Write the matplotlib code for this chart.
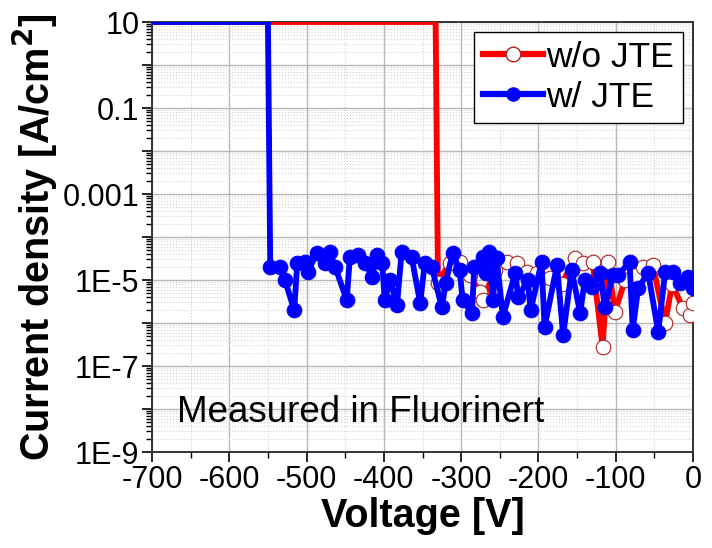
import matplotlib
matplotlib.use("Agg")
import matplotlib.pyplot as plt
import matplotlib.ticker as mticker
import numpy as np
from matplotlib.lines import Line2D

plt.rcParams['font.family'] = ['Liberation Sans', 'DejaVu Sans']

# ---- data ----
# compliance (10 A/cm^2) part of each sweep
wo_comp_v = [-700, -333]
wo_comp_j = [10, 10]
w_comp_v = [-700, -550]
w_comp_j = [10, 10]

# w/o JTE noise region
wo_v = [-330, -315, -302, -289, -276, -272, -256, -241, -228, -215, -202, -185,
        -170, -153, -142, -130, -117, -110, -101, -88, -75, -65, -52, -36, -27,
        -13, -4, 0]
wo_j = [8.5e-6, 2.5e-5, 2.6e-5, 1.3e-5, 5.2e-6, 3.4e-6, 1.7e-5, 2.6e-5, 2.5e-5,
        1.55e-5, 1.45e-5, 1.1e-5, 8e-6, 3.2e-5, 2.5e-5, 2.6e-5, 2.8e-7, 2.6e-5,
        1.8e-6, 1e-5, 1.3e-5, 2.0e-5, 2.2e-5, 1.0e-6, 8e-6, 2.2e-6, 1.5e-6, 2.9e-6]

# w/ JTE noise region
w_v = [-547, -534, -528, -516, -512, -502, -498, -487, -476, -470, -463, -448,
       -444, -434, -424, -415, -409, -402, -399, -392, -383, -377, -364, -353,
       -347, -338, -325, -320, -311, -302, -298, -286, -283, -272, -268, -264,
       -259, -254, -246, -230, -226, -214, -210, -196, -192, -176, -168, -157,
       -146, -140, -131, -120, -114, -104, -97, -82, -78, -71, -58, -45, -36,
       -26, -17, -7, 0]
w_j = [2.0e-5, 2.0e-5, 1.0e-5, 2.0e-6, 2.5e-5, 2.6e-5, 1.55e-5, 4.3e-5, 2.5e-5,
       4.5e-5, 2.0e-5, 3.4e-6, 3.4e-5, 3.8e-5, 2.5e-5, 1.2e-5, 3.8e-5, 2.5e-5,
       3.4e-6, 1.0e-5, 2.6e-6, 4.5e-5, 3.4e-5, 2.9e-6, 2.5e-5, 2.0e-5, 2.3e-6,
       8.5e-6, 4.3e-5, 1.7e-5, 3.4e-6, 1.7e-6, 2.0e-5, 3.4e-5, 1.45e-5, 4.5e-5,
       3.4e-6, 3.2e-5, 1.4e-6, 1.45e-5, 4.0e-6, 1.0e-5, 2.0e-6, 2.6e-5, 8.1e-7,
       2.2e-5, 5.2e-7, 1.7e-5, 1.7e-6, 1.0e-5, 6.9e-6, 1.45e-5, 2.3e-6, 1.3e-5,
       1.3e-5, 2.6e-5, 6.9e-7, 6.5e-6, 1.45e-5, 6.2e-7, 1.55e-5, 1.55e-5, 8.5e-6,
       1.2e-5, 6.5e-6]

series_labels = ["w/o JTE", "w/ JTE"]
ytick_labels = {1: "10", -1: "0.1", -3: "0.001", -5: "1E-5", -7: "1E-7", -9: "1E-9"}
xticks = [-700, -600, -500, -400, -300, -200, -100, 0]

RED = '#ff0000'
BLUE = '#0000ff'
LW = 4.2
MS = 10.5

fig = plt.figure(figsize=(7.12, 5.48), dpi=100)
ax = fig.add_axes([152/712, 96/548, 541/712, 430/548])

# w/o JTE
ax.plot(wo_comp_v + [wo_v[0]], wo_comp_j + [wo_j[0]], color=RED, lw=LW,
        solid_joinstyle='miter', zorder=3)
ax.plot(wo_v, wo_j, color=RED, lw=LW, marker='o', ms=MS, mfc='white',
        mec='#b02020', mew=0.8, zorder=3)
# w/ JTE
ax.plot(w_comp_v + [w_v[0]], w_comp_j + [w_j[0]], color=BLUE, lw=LW,
        solid_joinstyle='miter', zorder=4)
ax.plot(w_v, w_j, color=BLUE, lw=LW, marker='o', ms=MS, mfc=BLUE,
        mec=BLUE, mew=0.8, zorder=4)

# legend handles
h1 = Line2D([], [], color=RED, lw=4.5, marker='o', ms=10.5, mfc='white', mec='#b02020', mew=1)
h2 = Line2D([], [], color=BLUE, lw=4.5, marker='o', ms=9.5, mfc=BLUE, mec=BLUE)
leg = ax.legend([h1, h2], series_labels, loc='upper right',
                bbox_to_anchor=(0.9815, 0.977), borderaxespad=0,
                fontsize=25.5, frameon=True, fancybox=False, handlelength=1.7,
                handletextpad=0.1, borderpad=0.25, labelspacing=0.2)
leg.get_frame().set_edgecolor('black')
leg.get_frame().set_linewidth(1.0)
leg.get_frame().set_alpha(1)
leg.set_zorder(10)

ax.set_yscale('log')
ax.set_xlim(-700, 0)
ax.set_ylim(1e-9, 10)

ax.yaxis.set_major_locator(mticker.LogLocator(base=10, numticks=30))
ax.yaxis.set_minor_locator(mticker.LogLocator(base=10, subs=np.arange(2, 10), numticks=30))
ax.yaxis.set_major_formatter(mticker.FuncFormatter(
    lambda v, _: ytick_labels.get(int(round(np.log10(v))), '')))
ax.yaxis.set_minor_formatter(mticker.NullFormatter())

ax.xaxis.set_major_locator(mticker.FixedLocator(xticks))
ax.xaxis.set_minor_locator(mticker.MultipleLocator(50))
ax.xaxis.set_major_formatter(mticker.FuncFormatter(lambda v, _: f"{int(v)}"))

ax.grid(True, which='major', color='#b8b8b8', lw=1.0, ls='-', zorder=0)
ax.grid(True, which='minor', color='#d4d4d4', lw=0.8, ls=':', zorder=0)
ax.set_axisbelow(True)

ax.tick_params(axis='both', which='major', direction='out', length=7, width=1.2,
               labelsize=22, pad=2)
ax.tick_params(axis='both', which='minor', direction='out', length=4, width=1.0)
for s in ax.spines.values():
    s.set_linewidth(1.4)
    s.set_color('#333333')

ax.set_xlabel('Voltage [V]', fontsize=28.5, fontweight='bold', labelpad=2)
ax.set_ylabel('Current density [A/cm$^\\mathbf{2}$]', fontsize=28.5, fontweight='bold', labelpad=2)

ax.text(0.046, 0.093, 'Measured in Fluorinert', transform=ax.transAxes,
        fontsize=26.5, ha='left', va='center', zorder=5)

fig.savefig('out.png', dpi=100)
